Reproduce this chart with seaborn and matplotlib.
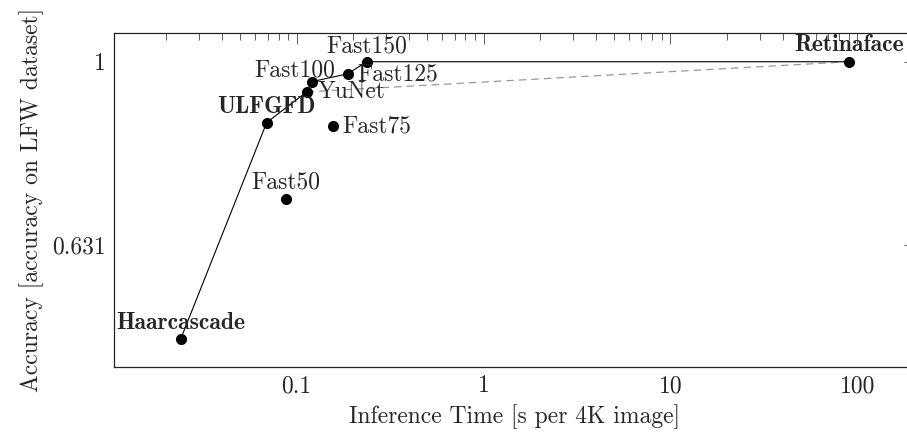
import matplotlib
matplotlib.use("Agg")
import matplotlib.pyplot as plt
import seaborn as sns
import pandas as pd
from matplotlib.ticker import FixedLocator, FixedFormatter, LogLocator, NullFormatter, NullLocator

# ---- data ----
models = ["Haarcascade", "ULFGFD", "Fast50", "YuNet", "Fast100",
          "Fast75", "Fast125", "Fast150", "Retinaface"]
times = [0.0239, 0.0691, 0.0873, 0.1131, 0.1203, 0.156, 0.1876, 0.237, 90.6]
accs = [0.497, 0.858, 0.707, 0.927, 0.951, 0.851, 0.970, 1.0, 1.0]
front_models = ["Haarcascade", "ULFGFD", "YuNet", "Fast100", "Fast125", "Fast150", "Retinaface"]
dashed_models = ["YuNet", "Retinaface"]
bold_models = ["Haarcascade", "ULFGFD", "Retinaface"]
y_ticks = [0.631, 1.0]
y_tick_labels = ["0.631", "1"]
x_ticks = [0.1, 1, 10, 100]
x_tick_labels = ["0.1", "1", "10", "100"]

df = pd.DataFrame({"model": models, "time": times, "acc": accs})
front = df.set_index("model").loc[front_models].reset_index()
dashed = df.set_index("model").loc[dashed_models].reset_index()

sns.set_theme(style="white")
plt.rcParams["font.family"] = ["cmr10", "DejaVu Serif"]
plt.rcParams["axes.formatter.use_mathtext"] = True

W, H = 907, 434
fig = plt.figure(figsize=(W / 100, H / 100), dpi=100)
L, R, T, B = 114, 915, 33, 367
ax = fig.add_axes([L / W, 1 - B / H, (R - L) / W, (B - T) / H])

sns.lineplot(data=dashed, x="time", y="acc", sort=False, estimator=None, ax=ax,
             color="#999999", linewidth=0.9, dashes=False, linestyle=(0, (6, 4)), zorder=2)
sns.lineplot(data=front, x="time", y="acc", sort=False, estimator=None, ax=ax,
             color="black", linewidth=0.8, zorder=3)
sns.scatterplot(data=df, x="time", y="acc", ax=ax, color="black", s=64,
                edgecolor="black", linewidth=0, zorder=4)

ax.set_xscale("log")
ax.set_yscale("log")
ax.set_xlim(0.01053, 203.6)
ax.set_ylim(0.4637, 1.075)

ax.xaxis.set_major_locator(FixedLocator(x_ticks))
ax.xaxis.set_major_formatter(FixedFormatter(x_tick_labels))
ax.xaxis.set_minor_locator(LogLocator(base=10, subs=range(2, 10)))
ax.xaxis.set_minor_formatter(NullFormatter())
ax.yaxis.set_major_locator(FixedLocator(y_ticks))
ax.yaxis.set_major_formatter(FixedFormatter(y_tick_labels))
ax.yaxis.set_minor_locator(NullLocator())

ax.tick_params(which="both", direction="in", top=True, right=True,
               color="#444444", width=0.6, labelsize=17, pad=6)
ax.tick_params(which="major", length=8)
ax.tick_params(which="minor", length=5)
for s in ax.spines.values():
    s.set_color("#222222")
    s.set_linewidth(0.9)

ax.set_xlabel("Inference Time [s per 4K image]", fontsize=17, labelpad=5)
ax.set_ylabel("Accuracy [accuracy on LFW dataset]", fontsize=17, labelpad=6)

# label placement (pixel offsets, alignment)
placement = {
    "Haarcascade": ((0, 16), "center"),
    "ULFGFD": ((0, 16), "center"),
    "Fast50": ((0, 17), "center"),
    "YuNet": ((11, 0), "left"),
    "Fast100": ((-17, 11), "center"),
    "Fast75": ((10, -1), "left"),
    "Fast125": ((10, -1), "left"),
    "Fast150": ((0, 15), "center"),
    "Retinaface": ((0, 17), "center"),
}
for m, t, a in zip(models, times, accs):
    off, ha = placement[m]
    fam = ["cmb10", "DejaVu Serif"] if m in bold_models else ["cmr10", "DejaVu Serif"]
    ax.annotate(m, (t, a), xytext=off, textcoords="offset pixels", ha=ha, va="center",
                fontsize=17, family=fam, zorder=5, annotation_clip=False)

fig.savefig("out.png", dpi=100)
